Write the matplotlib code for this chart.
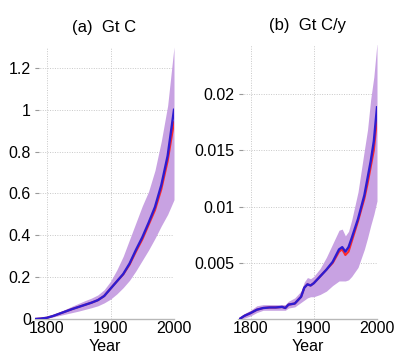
import matplotlib
matplotlib.use("Agg")
import matplotlib.pyplot as plt

plt.rcParams['font.family'] = ['Liberation Sans', 'DejaVu Sans']

# Panel (a): cumulative, Gt C
years_a = [1781, 1790, 1800, 1810, 1820, 1830, 1840, 1850, 1860, 1870, 1880, 1890,
           1900, 1910, 1920, 1930, 1940, 1950, 1960, 1970, 1980, 1990, 2000]
blue_a = [0, 0.002, 0.006, 0.015, 0.026, 0.037, 0.048, 0.058, 0.068, 0.078, 0.09, 0.11,
          0.145, 0.18, 0.215, 0.265, 0.33, 0.39, 0.46, 0.535, 0.64, 0.78, 1.0]
red_a = [0, 0.002, 0.006, 0.015, 0.026, 0.037, 0.048, 0.058, 0.068, 0.078, 0.09, 0.11,
         0.145, 0.18, 0.213, 0.26, 0.322, 0.38, 0.45, 0.52, 0.62, 0.755, 0.94]
upper_a = [0, 0.003, 0.009, 0.02, 0.034, 0.048, 0.062, 0.075, 0.088, 0.1, 0.115, 0.14,
           0.18, 0.235, 0.3, 0.38, 0.46, 0.54, 0.61, 0.71, 0.85, 1.02, 1.3]
lower_a = [0, 0.001, 0.004, 0.01, 0.017, 0.024, 0.031, 0.038, 0.046, 0.054, 0.063, 0.077,
           0.095, 0.12, 0.15, 0.185, 0.23, 0.28, 0.33, 0.385, 0.445, 0.5, 0.57]

# Panel (b): rate, Gt C/y
years_b = [1782, 1790, 1800, 1810, 1820, 1830, 1840, 1850, 1855, 1860, 1870, 1880, 1885,
           1890, 1895, 1900, 1910, 1920, 1930, 1940, 1945, 1950, 1955, 1960, 1970, 1980,
           1985, 1990, 1995, 2000]
blue_b = [0, 0.0003, 0.00055, 0.00085, 0.001, 0.00105, 0.00105, 0.0011, 0.001, 0.0013,
          0.0014, 0.002, 0.0028, 0.0031, 0.003, 0.0032, 0.0038, 0.0044, 0.0051, 0.0062,
          0.0064, 0.006, 0.0064, 0.0072, 0.0089, 0.011, 0.0125, 0.014, 0.0158, 0.0188]
red_b = [0, 0.0003, 0.00055, 0.00085, 0.001, 0.00105, 0.00105, 0.0011, 0.001, 0.0013,
         0.0014, 0.002, 0.0028, 0.0031, 0.003, 0.0032, 0.0038, 0.0044, 0.005, 0.006,
         0.0062, 0.0057, 0.006, 0.0069, 0.0087, 0.0107, 0.012, 0.0135, 0.015, 0.0178]
upper_b = [0, 0.0005, 0.0008, 0.0012, 0.0013, 0.0013, 0.0013, 0.0013, 0.0013, 0.0016,
           0.0019, 0.0025, 0.0033, 0.0037, 0.0036, 0.0038, 0.0045, 0.0055, 0.0067, 0.0079,
           0.008, 0.0074, 0.0078, 0.0088, 0.0113, 0.015, 0.0168, 0.0195, 0.0215, 0.0245]
lower_b = [0, 0.0001, 0.0003, 0.0006, 0.0008, 0.0008, 0.0008, 0.0008, 0.0008, 0.001,
           0.0011, 0.0015, 0.0017, 0.0019, 0.002, 0.002, 0.0022, 0.0025, 0.003, 0.0034,
           0.0034, 0.0034, 0.0035, 0.0038, 0.0046, 0.0062, 0.0072, 0.0083, 0.0093, 0.0105]

xticks = [1800, 1900, 2000]
yticks_a = [0, 0.2, 0.4, 0.6, 0.8, 1.0, 1.2]
yticklabels_a = ['0', '0.2', '0.4', '0.6', '0.8', '1', '1.2']
yticks_b = [0.005, 0.01, 0.015, 0.02]
yticklabels_b = ['0.005', '0.01', '0.015', '0.02']

band_color = '#c8a2e2'
blue_color = '#2e1cd0'
red_color = '#ff2a2a'
FS_TICK = 11.5
FS_TITLE = 12

fig = plt.figure(figsize=(3.96, 3.54), dpi=100)
H = 354.0
W = 396.0
ax_a = fig.add_axes([35 / W, (H - 319) / H, 139 / W, 272 / H])
ax_b = fig.add_axes([238.5 / W, (H - 319.3) / H, 138.5 / W, 274 / H])

panels = [
    (ax_a, years_a, blue_a, red_a, upper_a, lower_a, (0, 1.3), yticks_a, yticklabels_a, '(a)  Gt C'),
    (ax_b, years_b, blue_b, red_b, upper_b, lower_b, (0, 0.0243), yticks_b, yticklabels_b, '(b)  Gt C/y'),
]

for ax, yrs, bl, rd, up, lo, ylim, yt, ytl, title in panels:
    ax.fill_between(yrs, lo, up, color=band_color, linewidth=0, zorder=1)
    ax.plot(yrs, rd, color=red_color, linewidth=1.5, zorder=2)
    ax.plot(yrs, bl, color=blue_color, linewidth=1.7, zorder=3)
    ax.set_xlim(1781, 2000)
    ax.set_ylim(*ylim)
    ax.set_xticks(xticks)
    ax.set_xticklabels([str(t) for t in xticks], fontsize=FS_TICK)
    ax.set_yticks(yt)
    ax.set_yticklabels(ytl, fontsize=FS_TICK)
    ax.grid(True, linestyle=(0, (1, 1.5)), color='#c8c8c8', linewidth=0.7, zorder=0)
    ax.set_axisbelow(True)
    for s in ['top', 'right', 'left']:
        ax.spines[s].set_visible(False)
    ax.spines['bottom'].set_color('#b8b8b8')
    ax.spines['bottom'].set_linewidth(1.0)
    ax.tick_params(axis='x', length=0, pad=1.5)
    ax.tick_params(axis='y', length=3, direction='in', color='#999999', pad=3)
    ax.set_title(title, fontsize=FS_TITLE, pad=11)
    ax.set_xlabel('Year', fontsize=FS_TICK, labelpad=2)

fig.savefig('out.png', dpi=100)
